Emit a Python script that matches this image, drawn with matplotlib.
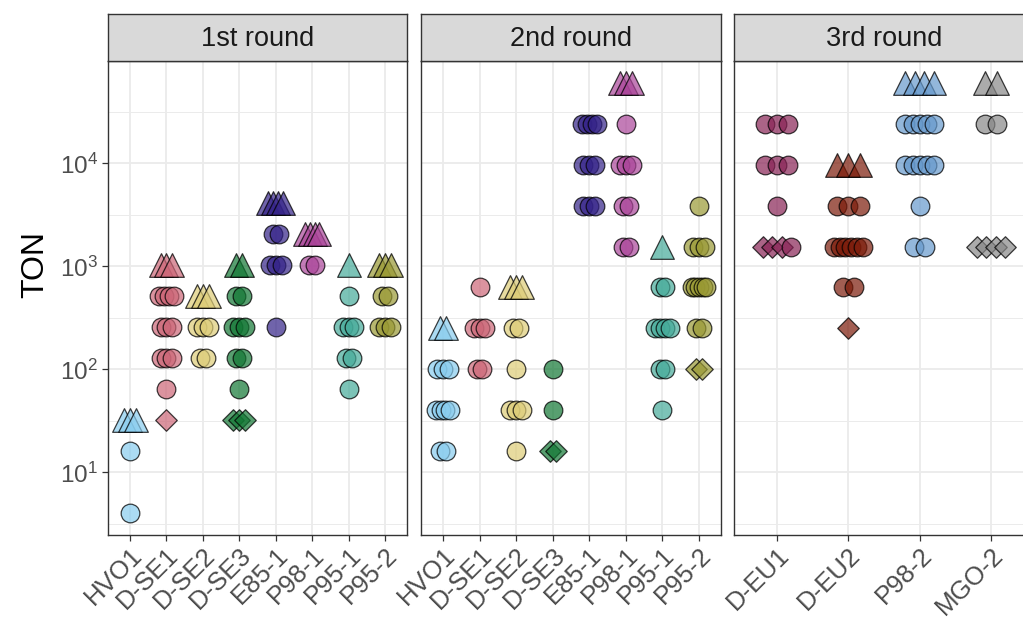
import numpy as np
import matplotlib
matplotlib.use("Agg")
import matplotlib.pyplot as plt
from matplotlib.colors import to_rgba

plt.rcParams['font.family'] = ['Liberation Sans', 'DejaVu Sans']
plt.rcParams['mathtext.fontset'] = 'custom'
plt.rcParams['mathtext.rm'] = 'Liberation Sans'
plt.rcParams['mathtext.it'] = 'Liberation Sans:italic'

# ---- data ----
rounds = ["1st round", "2nd round", "3rd round"]

r1_cats = ["HVO1", "D-SE1", "D-SE2", "D-SE3", "E85-1", "P98-1", "P95-1", "P95-2"]
r1_circles = [
    [16, 4],
    [512, 512, 512, 512, 256, 256, 256, 128, 128, 128, 64],
    [256, 256, 256, 128, 128],
    [512, 512, 256, 256, 256, 128, 128, 64],
    [2048, 2048, 1024, 1024, 1024, 256],
    [1024, 1024],
    [512, 256, 256, 256, 128, 128, 64],
    [512, 512, 256, 256, 256],
]
r1_triangles = [
    [32, 32, 32],
    [1024, 1024, 1024],
    [512, 512, 512],
    [1024, 1024],
    [4096, 4096, 4096, 4096],
    [2048, 2048, 2048, 2048],
    [1024],
    [1024, 1024, 1024],
]
r1_diamonds = [[], [32], [], [32, 32, 32], [], [], [], []]

r2_cats = ["HVO1", "D-SE1", "D-SE2", "D-SE3", "E85-1", "P98-1", "P95-1", "P95-2"]
r2_circles = [
    [100, 100, 100, 40, 40, 40, 40, 16, 16],
    [625, 250, 250, 250, 100, 100],
    [250, 250, 100, 40, 40, 40, 16],
    [100, 40],
    [24414, 24414, 24414, 24414, 9766, 9766, 9766, 3906, 3906, 3906],
    [24414, 9766, 9766, 9766, 3906, 3906, 1562, 1562],
    [625, 625, 250, 250, 250, 250, 100, 100, 40],
    [3906, 1562, 1562, 1562, 625, 625, 625, 625, 625, 250, 250],
]
r2_triangles = [
    [250, 250],
    [],
    [625, 625, 625],
    [],
    [],
    [61035, 61035, 61035],
    [1562],
    [],
]
r2_diamonds = [[], [], [], [16, 16], [], [], [], [100, 100]]

r3_cats = ["D-EU1", "D-EU2", "P98-2", "MGO-2"]
r3_circles = [
    [24414, 24414, 24414, 9766, 9766, 9766, 3906, 1562],
    [3906, 3906, 3906, 1562, 1562, 1562, 1562, 1562, 1562, 625, 625],
    [24414, 24414, 24414, 24414, 24414, 9766, 9766, 9766, 9766, 9766, 3906, 1562, 1562],
    [24414, 24414],
]
r3_triangles = [
    [],
    [9766, 9766, 9766],
    [61035, 61035, 61035, 61035],
    [61035, 61035],
]
r3_diamonds = [[1562, 1562, 1562], [250], [], [1562, 1562, 1562, 1562]]

colors = {
    "HVO1": "#88CCEE", "D-SE1": "#CC6677", "D-SE2": "#DDCC77", "D-SE3": "#117733",
    "E85-1": "#332288", "P98-1": "#AA4499", "P95-1": "#44AA99", "P95-2": "#999933",
    "D-EU1": "#882255", "D-EU2": "#7B1A08", "P98-2": "#6699CC", "MGO-2": "#888888",
}

panels = [
    (r1_cats, r1_circles, r1_triangles, r1_diamonds),
    (r2_cats, r2_circles, r2_triangles, r2_diamonds),
    (r3_cats, r3_circles, r3_triangles, r3_diamonds),
]

# ---- layout ----
W, H = 1023, 625
fig = plt.figure(figsize=(W / 100, H / 100), dpi=100)
panel_px = [(108, 407), (421, 721), (734, 1034)]
top_px, bot_px = 61, 535
strip_top = 14

all_vals = [v for p in panels for grp in p[1:] for lst in grp for v in lst]
lo, hi = np.log10(min(all_vals)), np.log10(max(all_vals))
pad = 0.05 * (hi - lo)
ylim = (10 ** (lo - pad), 10 ** (hi + pad))

shape_size = {"D": 120, "o": 180, "^": 290}


def spread(n):
    if n == 1:
        return np.array([0.0])
    w = min(0.08 * (n - 1), 0.2)
    return np.linspace(-w, w, n)


for i, (cats, circ, tri, dia) in enumerate(panels):
    x0, x1 = panel_px[i]
    ax = fig.add_axes([x0 / W, 1 - bot_px / H, (x1 - x0) / W, (bot_px - top_px) / H])
    ax.set_yscale("log")
    ax.set_ylim(*ylim)
    ax.set_xlim(-0.6, len(cats) - 1 + 0.6)

    for ci, cat in enumerate(cats):
        groups = [("D", dia[ci]), ("o", circ[ci]), ("^", tri[ci])]
        levels = {}
        for mk, vals in groups:
            for v in vals:
                levels.setdefault(v, []).append(mk)
        fc = to_rgba(colors[cat], 0.7)
        ec = (0, 0, 0, 0.75)
        for v, mks in levels.items():
            offs = spread(len(mks))
            for mk, off in zip(mks, offs):
                ax.scatter([ci + off], [v], marker=mk, s=shape_size[mk],
                           facecolor=fc, edgecolor=ec, linewidth=0.9, zorder=3)

    ax.set_xticks(range(len(cats)))
    ax.set_xticklabels(cats, rotation=45, ha="right", va="top",
                       rotation_mode="anchor", color="#4D4D4D", fontsize=18.5)
    ax.set_yticks([10, 100, 1000, 10000])
    ax.set_yticks([10 ** 0.5, 10 ** 1.5, 10 ** 2.5, 10 ** 3.5, 10 ** 4.5], minor=True)
    ax.yaxis.set_minor_formatter(plt.NullFormatter())
    if i == 0:
        ax.set_yticklabels([r"$10^{1}$", r"$10^{2}$", r"$10^{3}$", r"$10^{4}$"],
                           color="#4D4D4D", fontsize=17.5)
        ax.tick_params(axis="y", which="major", length=4, width=0.9, color="#333333", pad=3)
    else:
        ax.set_yticklabels([])
        ax.tick_params(axis="y", which="major", length=0)
    ax.tick_params(axis="y", which="minor", length=0)
    ax.tick_params(axis="x", length=4, width=0.9, color="#333333", pad=2)

    ax.grid(True, which="major", color="#EBEBEB", linewidth=1.3, zorder=0)
    ax.grid(True, which="minor", axis="y", color="#EBEBEB", linewidth=0.7, zorder=0)
    ax.set_axisbelow(True)
    for sp in ax.spines.values():
        sp.set_color("#333333")
        sp.set_linewidth(1.0)

    # facet strip
    sax = fig.add_axes([x0 / W, 1 - top_px / H, (x1 - x0) / W, (top_px - strip_top) / H])
    sax.set_facecolor("#D9D9D9")
    sax.set_xticks([])
    sax.set_yticks([])
    for sp in sax.spines.values():
        sp.set_color("#333333")
        sp.set_linewidth(1.0)
    sax.text(0.5, 0.47, rounds[i], ha="center", va="center", fontsize=19.5,
             color="#1A1A1A", transform=sax.transAxes)

fig.text(35 / W, 1 - 265 / H, "TON", rotation=90,
         ha="center", va="center", fontsize=23, color="black")

fig.savefig("out.png", dpi=100)
